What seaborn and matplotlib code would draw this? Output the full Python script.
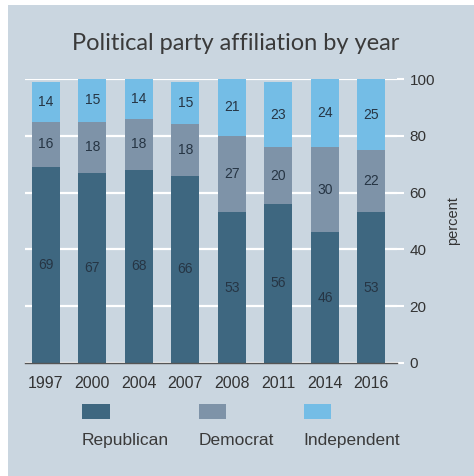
import seaborn as sns
import matplotlib.pyplot as plt
from matplotlib.patches import Rectangle, Patch
from matplotlib.offsetbox import VPacker
import numpy as np

# data
years = ["1997", "2000", "2004", "2007", "2008", "2011", "2014", "2016"]
republican = [69, 67, 68, 66, 53, 56, 46, 53]
democrat = [16, 18, 18, 18, 27, 20, 30, 22]
independent = [14, 15, 14, 15, 21, 23, 24, 25]

parties = ["Republican", "Democrat", "Independent"]
colors = ["#3e6780", "#7e93a8", "#74bde6"]
bg = "#cad6e0"
txt = "#333333"

sns.set_theme(style="white")
plt.rcParams["font.family"] = ["Liberation Sans", "DejaVu Sans"]

fig = plt.figure(figsize=(4.74, 4.76), dpi=100)
fig.patch.set_facecolor("white")
fig.patches.append(Rectangle((8 / 474, 0), 1, 471 / 476, transform=fig.transFigure,
                             facecolor=bg, edgecolor="none", zorder=-10))

ax = fig.add_axes([25 / 474, 113 / 476, 372 / 474, 284 / 476])
ax.set_facecolor(bg)
ax.set_axisbelow(True)
ax.yaxis.grid(True, color="white", linewidth=1.6)

# stacked bars, one layer per party
bottom = np.zeros(len(years))
for name, vals, c in zip(parties, [republican, democrat, independent], colors):
    sns.barplot(x=years, y=vals, bottom=bottom, color=c, width=0.6,
                linewidth=0, saturation=1, ax=ax, label=name)
    ax.bar_label(ax.containers[-1], label_type="center", fontsize=10, color="#263544")
    bottom = bottom + np.array(vals)

ax.set_xlim(-0.45, 7.55)
ax.set_ylim(0, 100)
ax.set_yticks([0, 20, 40, 60, 80, 100])
ax.yaxis.tick_right()
ax.yaxis.set_label_position("right")
ax.set_ylabel("percent", fontsize=10.5, color=txt, labelpad=8)
ax.set_xlabel("")
ax.tick_params(axis="y", length=5, width=1.5, color="white", labelsize=11,
               labelcolor=txt, pad=4)
ax.tick_params(axis="x", length=0, labelsize=11.5, labelcolor=txt, pad=9)
for s in ["top", "left", "right"]:
    ax.spines[s].set_visible(False)
ax.spines["bottom"].set_color("#555555")
ax.spines["bottom"].set_linewidth(1)

fig.text(236 / 474, 1 - 43 / 476, "Political party affiliation by year",
         ha="center", va="center", fontsize=17, color="#3a3a3a", family=["Lato", "DejaVu Sans"])

# legend: swatch above its label
handles = [Patch(facecolor=c, edgecolor="none") for c in colors]
leg = ax.legend(handles, parties, ncol=3, frameon=False, fontsize=12.5,
                handlelength=1.6, handleheight=0.9, columnspacing=1.7,
                handletextpad=0.85, loc="upper left", borderpad=0, borderaxespad=0,
                bbox_to_anchor=(57 / 372, -0.145))
for col in leg._legend_handle_box.get_children():
    for item in col.get_children():
        item.__class__ = VPacker
        item.align = "left"
for t in leg.get_texts():
    t.set_color("#3a3a3a")

fig.savefig("out.png", dpi=100, facecolor=fig.get_facecolor())
